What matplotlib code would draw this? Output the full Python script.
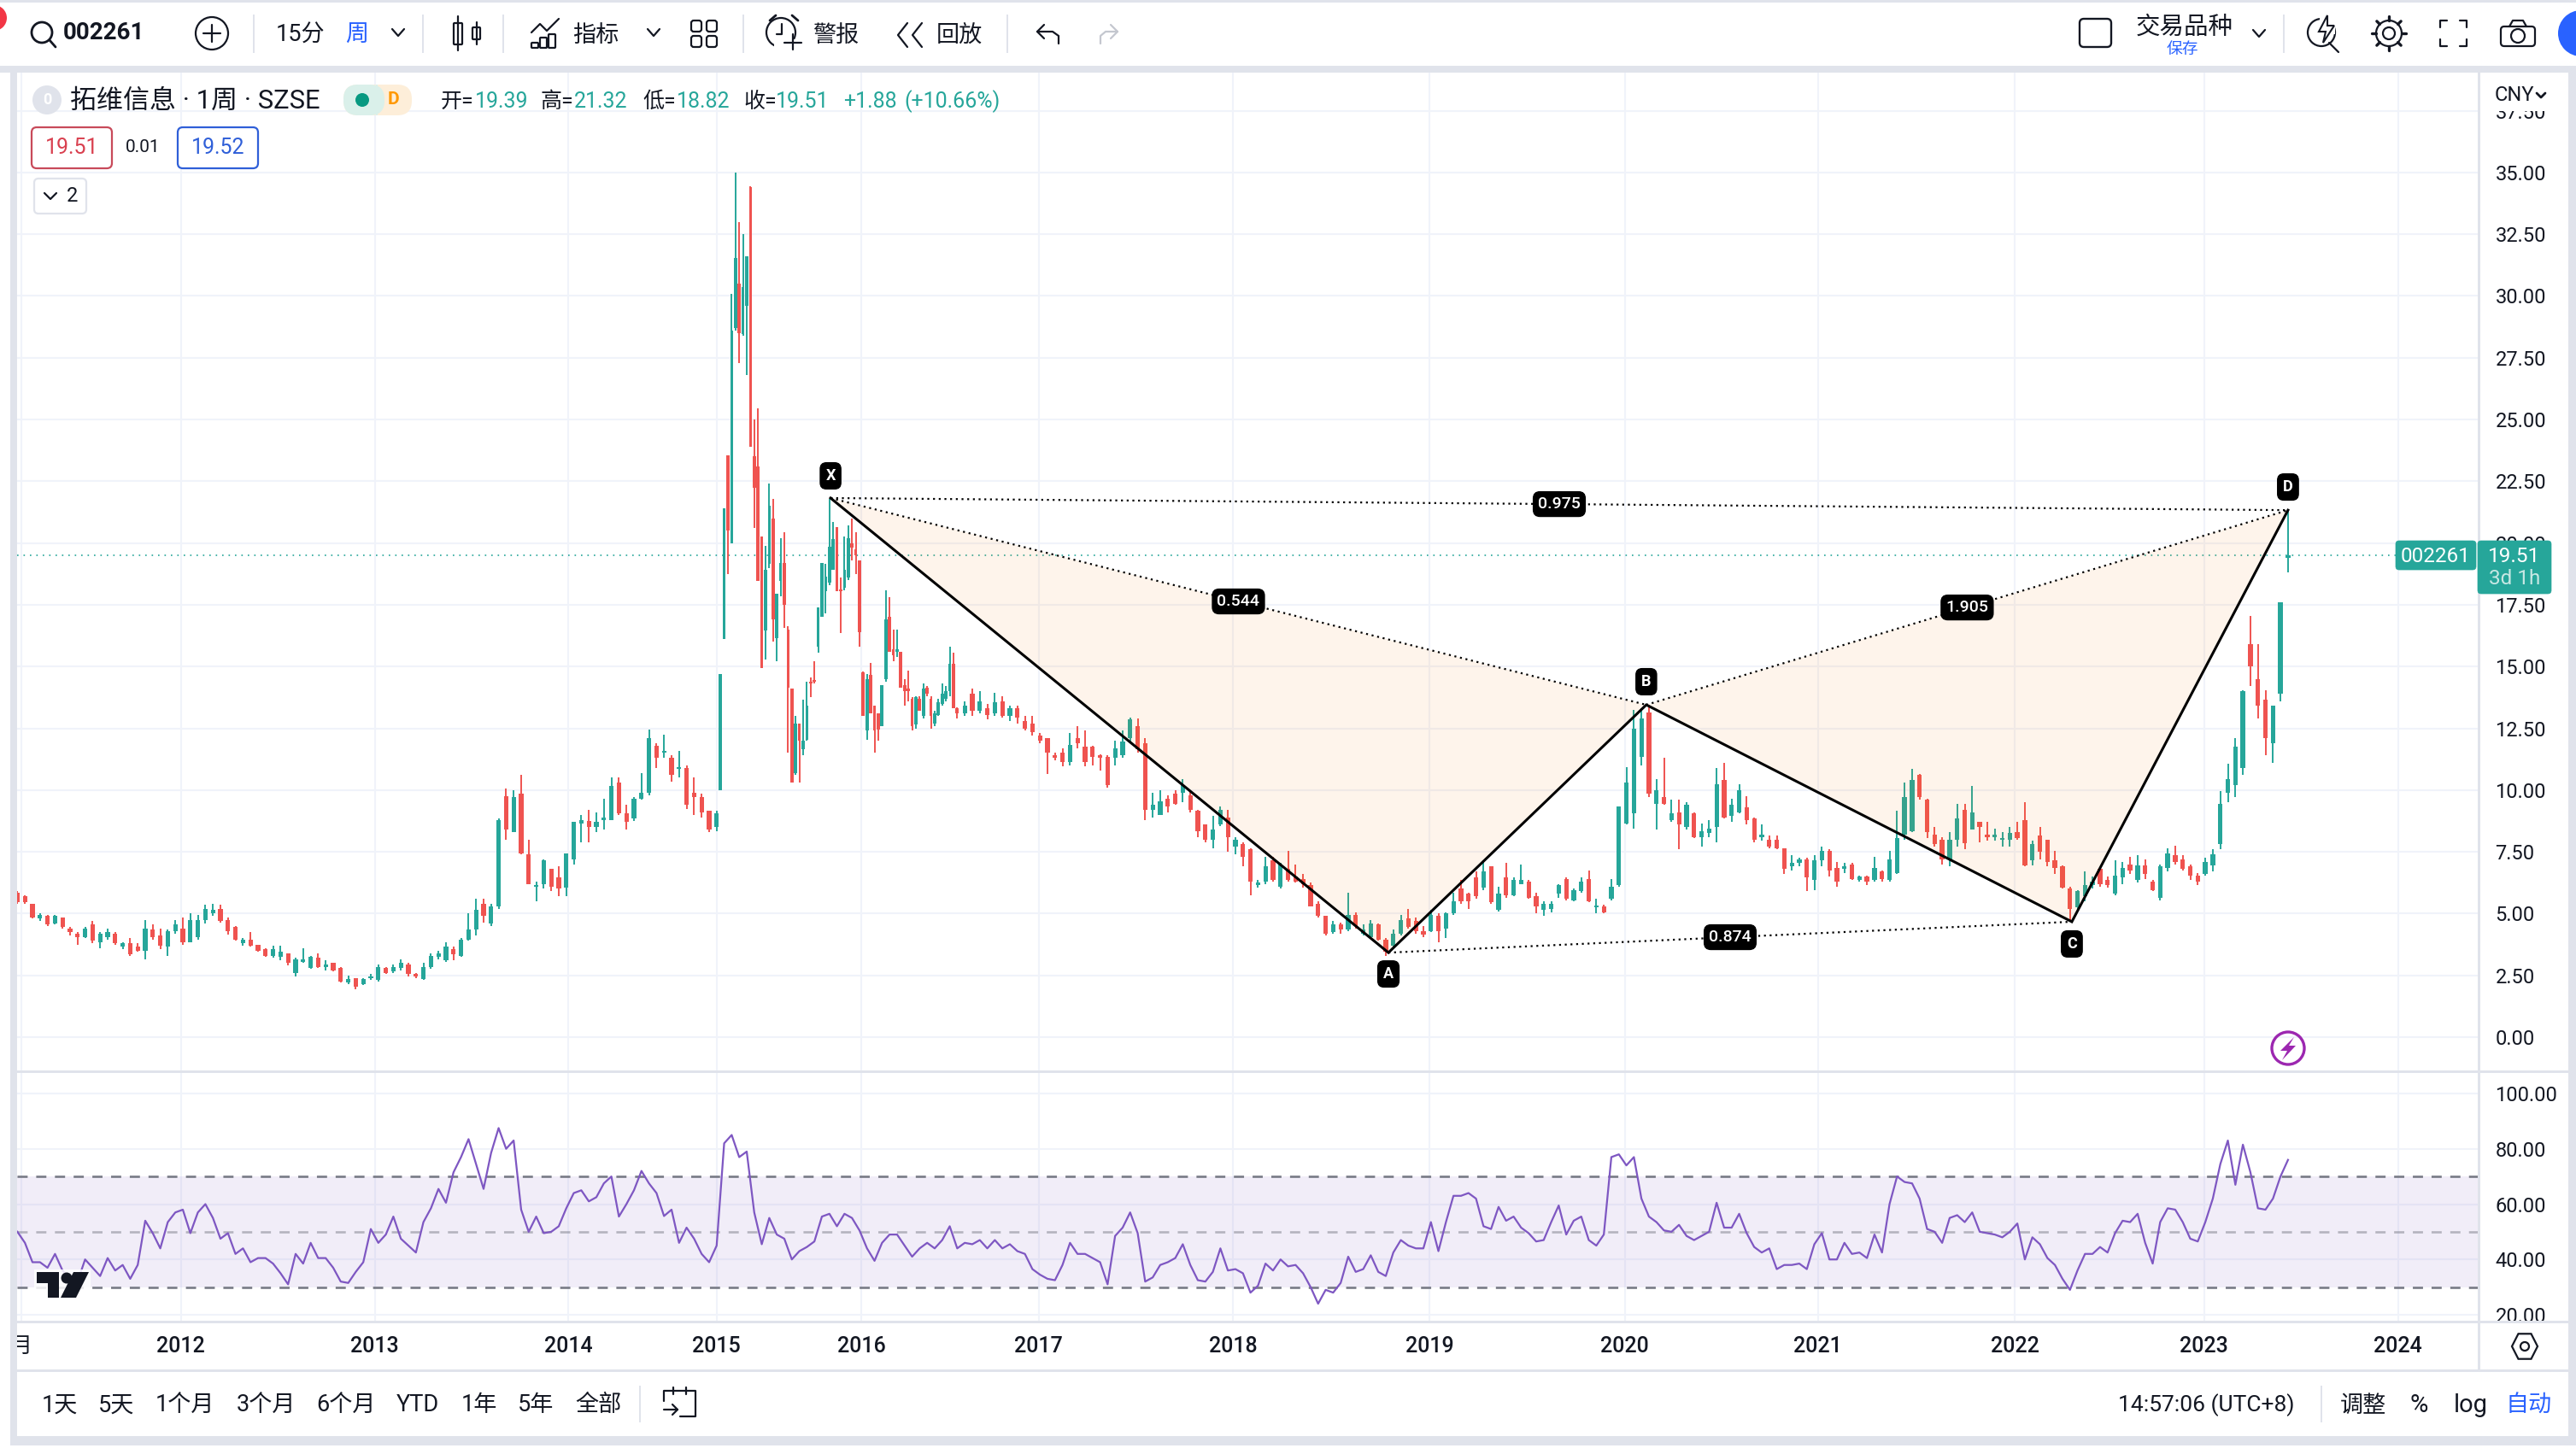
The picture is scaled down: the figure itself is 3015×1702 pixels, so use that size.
import numpy as np
import matplotlib
matplotlib.use("Agg")
import matplotlib.pyplot as plt
from matplotlib.patches import Circle, FancyBboxPatch, Polygon, Rectangle

plt.rcParams["font.family"] = ["Roboto", "Noto Sans CJK SC", "DejaVu Sans"]

# weeks since the first bar: two-week bars, weekly around the 2015 spike
weeks = np.r_[np.arange(0, 187, 2), np.arange(187, 251), np.arange(252, 605, 2)]
bar_width = np.r_[np.full(94, 1.2), np.full(64, 0.85), np.full(177, 1.2)]

opens = [
    5.85,5.7,5.4,4.8,4.9,4.6,4.85,4.4,4.2,4.05,
    4.55,3.85,4.05,4.2,3.65,3.8,3.65,3.5,4.35,4.1,
    3.65,4.3,4.4,3.85,4.05,4.75,5.0,5.2,4.75,4.45,
    3.8,3.95,3.75,3.55,3.3,3.25,3.4,2.6,3.05,2.8,
    3.2,2.85,3.0,2.8,2.2,2.4,2.15,2.4,2.3,2.8,
    2.65,2.8,2.95,2.55,2.35,2.85,3.25,3.1,3.55,3.3,
    3.95,4.35,5.4,4.6,5.3,9.75,8.3,9.85,7.4,6.1,
    6.2,6.8,6.45,6.05,7.2,8.65,8.75,8.5,8.8,8.8,
    10.3,9.05,8.85,9.65,9.9,11.8,11.5,11.3,10.85,10.9,
    9.9,9.7,9.15,8.5,
    # weekly
    10,16.1,23.55,20,28.7,30.5,28.45,29.6,34.4,23.5,
    23.1,20.25,16.45,19.15,21,16.15,18.45,19.2,16.5,14.1,
    10.7,12.7,11.65,12.05,14.35,14.45,15.8,17,18.05,18.4,
    18.9,20.65,18.1,18.2,18.6,20,19.75,19.3,14.75,12.4,
    14.65,13.4,13.1,12.6,14.5,17,15.7,15.6,15.6,14.25,
    14.1,13.7,12.65,13.7,13,14.15,13.7,12.7,13.05,13.5,
    13.7,14,15.1,13.3,
    # two-week again
    13.1,13.9,13.2,13.3,13.1,13.6,13,13.3,12.8,12.7,
    12.2,12.1,11.4,11.5,11.15,12.1,11.75,11.75,11.4,11.35,
    11.3,11.4,12.1,12.6,11.9,9.2,9,9.65,9.85,9.9,
    9.8,9.15,8.6,8,8.6,8.9,7.7,7.8,7.6,6.15,
    6.3,7.15,6.1,6.8,6.5,6.4,6.15,5.4,4.9,4.25,
    4.55,4.35,4.95,4.2,4.05,4.55,3.95,3.7,4.2,4.8,
    4.7,4.3,4.3,4.9,4.4,5,6,5.8,6.45,6.05,
    6.9,5.15,6.45,5.75,6.2,6.3,5.7,5.15,5.2,5.8,
    6.4,5.55,5.9,6.4,5.25,5.3,5.6,6.15,8.65,9.05,
    11.35,13.15,9.45,9.7,8.8,9.1,8.5,9.05,8.1,8.25,
    8.5,10.4,8.95,9.1,9.3,8.85,8.1,8,8,7.65,
    6.9,7.05,7.2,6.35,7.15,7.55,6.85,6.8,7,6.35,
    6.5,6.35,6.7,6.35,6.65,8.2,8.35,10.6,9.6,8.2,
    8,7.2,8,9.2,8.4,8.7,8.2,8.1,8,8,
    8.3,8.8,7.15,8.15,8,7.15,6.9,6,5.25,5.7,
    6.15,6.8,6.35,5.8,6.45,7,6.35,6.95,6.3,5.65,
    6.85,7.35,7.2,6.9,6.55,6.6,6.95,7.8,9.9,10.2,
    10.9,15.9,14.5,13.65,11.9,13.9,19.39,
]
highs = [
    5.9,5.75,5.4,5.0,4.95,4.95,4.85,4.45,4.25,4.45,
    4.7,4.25,4.4,4.25,3.85,4.0,3.8,4.75,4.55,4.4,
    4.35,4.75,4.85,5.0,4.95,5.35,5.4,5.35,4.85,4.5,
    4.0,4.25,3.75,3.6,3.7,3.7,3.4,3.2,3.6,3.3,
    3.4,3.1,3.0,2.85,2.5,2.4,2.4,2.55,2.95,2.85,
    2.95,3.15,3.0,2.6,3.0,3.4,3.5,3.85,3.65,4.0,
    5.0,5.6,5.6,5.4,8.85,10.05,10.0,10.6,8.0,6.3,
    7.2,6.8,6.9,7.45,8.7,9.0,9.2,9.1,9.65,10.5,
    10.5,9.4,9.7,10.7,12.45,11.9,12.25,11.4,11.6,11.0,
    10.5,9.85,9.15,9.15,
    # weekly
    14.68,21.4,23.55,30.07,35,33,32.5,31.6,34.45,25,
    25.45,20.25,19.9,22.4,21.8,17.95,20.2,20.45,16.65,14.1,
    13,12.7,13.65,14.4,14.55,15.2,17.4,19.2,19.15,21.8,
    20.85,20.65,18.6,20.25,20.7,21,20.45,19.3,14.8,14.7,
    15.15,13.4,13.1,14.25,18.1,17.8,16.5,16.5,15.6,14.5,
    14.85,13.75,13.8,13.8,14.3,14.2,13.8,13.2,13.7,14.3,
    14.2,15.8,15.55,13.35,
    # two-week again
    13.6,14.1,14,13.5,13.95,13.8,13.4,13.4,13,13,
    12.3,12.1,11.5,11.7,12.3,12.6,12.4,11.8,11.45,11.4,
    12,12.4,12.95,12.9,12.1,9.9,10,9.8,10,10.45,
    10,9.2,8.6,8.95,9.35,9.2,8.1,7.9,7.65,6.35,
    7.3,7.3,7.05,7.55,7,6.6,6.25,5.5,4.9,4.7,
    4.65,5.85,5.05,4.55,4.75,4.6,4,4.35,4.95,5.2,
    4.85,4.5,5.15,5,5.05,5.85,6.35,5.85,6.7,7.15,
    6.9,6.1,7.05,6.45,7,6.35,5.85,5.5,5.5,6.2,
    6.45,6,6.45,6.75,5.6,5.35,6.4,9.35,10.93,13.25,
    13.3,13.45,10.45,11.3,9.6,9.6,9.5,9.1,8.65,8.8,
    10.9,11.1,9.65,10.25,9.75,8.9,8.6,8.15,8.15,7.65,
    7.35,7.25,7.25,7.35,7.7,7.6,7.1,7.05,7.05,6.55,
    6.55,7.3,6.75,7.55,9.15,10.3,10.85,10.65,9.65,8.5,
    8.1,8.3,9.45,9.45,10.15,8.7,8.7,8.45,8.3,8.5,
    8.7,9.5,7.95,8.5,8,7.55,6.95,6.1,5.95,6.7,
    6.5,6.85,6.5,7.15,7.1,7.3,7.35,7.2,6.35,7,
    7.65,7.75,7.35,7,6.65,7.25,7.6,9.95,11.05,12.1,
    14.05,17.05,15.9,14.05,13.4,17.6,21.32,
]
lows = [
    5.4,5.4,4.8,4.7,4.5,4.55,4.4,4.1,3.75,4.0,
    3.8,3.6,3.95,3.75,3.55,3.3,3.45,3.15,3.95,3.55,
    3.3,4.2,3.75,3.85,3.95,4.6,4.9,4.65,4.15,3.9,
    3.7,3.65,3.45,3.25,3.2,3.1,2.9,2.45,3.0,2.75,
    2.8,2.7,2.65,2.2,2.15,1.95,2.1,2.3,2.25,2.55,
    2.6,2.7,2.45,2.4,2.3,2.75,3.15,3.05,3.1,3.25,
    3.9,4.1,4.65,4.5,5.2,8.0,8.3,7.4,6.2,5.5,
    6.0,5.9,5.7,5.7,7.0,7.9,7.9,8.3,8.4,8.8,
    9.0,8.4,8.75,9.6,9.8,10.9,11.3,10.35,10.5,9.25,
    9.0,8.9,8.3,8.35,
    # weekly
    10,16.1,18.75,20,28.6,27.3,28.4,26.8,23.9,20.6,
    18.45,14.95,15.3,19,16,15.2,17.85,16.55,11.5,10.3,
    10.6,10.3,11.4,12,13.75,14.3,15.55,17,17.15,18.3,
    18.9,18.05,16.35,18.1,18.5,19.3,18.75,15.8,13,12.05,
    13.1,11.5,12,12.6,14.4,15.6,15.2,15.4,14.15,13.4,
    13.6,12.4,12.5,13.2,12.9,13.8,12.5,12.6,13,13.4,
    13.6,13.8,13.3,12.9,
    # two-week again
    13,13,13.1,12.85,13,12.95,12.8,12.7,12.4,12.2,
    11.9,10.65,11.2,10.95,11,11.7,10.95,11,10.8,10.1,
    11,11.3,11.9,11.5,8.8,8.9,9,9.1,9.4,9.5,
    9.1,8.1,7.9,7.65,8.55,7.5,7.4,6.9,5.75,6.05,
    6.2,6.3,6,6.3,6.25,6.05,5.3,4.85,4.1,4.2,
    4.2,4.3,4.4,4.1,4,3.9,3.3,3.6,4.1,4.4,
    4.2,4.05,4.25,3.85,4,4.95,5.4,5.2,5.6,5.95,
    5.4,5.1,5.65,5.7,6.2,5.6,5,4.9,5.05,5.65,
    5.55,5.5,5.85,5.45,5,5,5.55,6.1,8.6,8.45,
    11,9.7,8.4,9.4,8.7,7.6,8.4,8.05,7.7,8.1,
    7.9,8.85,8.7,9.05,8.6,7.9,7.95,7.65,7.6,6.6,
    6.75,6.9,5.9,5.95,6.9,6.5,6.1,6.65,6.35,6.3,
    6.15,6.3,6.3,6.3,6.6,8,8.3,9.6,8.05,7.7,
    7,6.9,7.7,7.6,8.4,7.9,7.95,7.95,7.7,7.7,
    8,6.9,6.95,7.2,6.9,6.6,6,4.67,5.15,5.5,
    6,6.1,6.05,5.75,6.2,6.6,6.25,6.4,5.9,5.55,
    6.7,7,6.75,6.35,6.15,6.55,6.7,7.6,9.5,9.7,
    10.6,14.2,12.9,11.4,11.1,13.6,18.82,
]
closes = [
    5.45,5.45,4.85,4.95,4.55,4.9,4.45,4.25,4.05,4.4,
    3.9,4.2,4.25,3.8,3.8,3.35,3.5,4.4,4.05,3.7,
    4.3,4.55,3.85,4.75,4.75,5.2,5.15,4.7,4.3,3.95,
    3.95,3.7,3.5,3.3,3.55,3.45,3.0,3.15,3.15,3.25,
    2.85,2.95,2.7,2.25,2.35,2.05,2.35,2.42,2.85,2.6,
    2.85,3.0,2.55,2.45,2.85,3.3,3.4,3.65,3.35,3.95,
    4.35,5.15,4.9,5.3,8.8,8.4,9.7,7.45,6.2,6.15,
    7.15,6.1,6.0,7.45,8.7,8.8,8.5,8.7,8.8,10.15,
    9.05,8.7,9.65,9.9,12.1,11.3,11.5,10.6,10.9,9.4,
    9.7,9.1,8.4,9.05,
    # weekly
    14.68,21.4,20.5,28.6,31.55,28.5,30.35,31.6,23.9,22.25,
    18.45,14.95,18.9,21.5,16.9,17.95,19.2,17.5,14.15,10.3,
    12.7,12,12,13.4,14.3,14.4,17.4,19.2,18.65,19.85,
    20.15,18.05,18.05,18.9,20.2,19.8,19.5,16.4,13,14.5,
    13.1,12.4,12.45,14.25,16.9,15.6,15.45,15.7,14.15,14,
    14,12.6,13.75,13.2,14.1,13.9,13,13.1,13.55,13.9,
    14,15.1,13.3,13.1,
    # two-week again
    13.4,13.2,13.6,13.05,13.55,13,13.3,12.95,12.5,12.35,
    12,11.5,11.3,11.15,11.84,11.9,11.15,11.35,11.3,10.2,
    11.7,11.95,12.85,11.65,9.2,9.4,9.55,9.35,9.45,10.2,
    9.2,8.35,8,8.4,9.2,8.1,8,7.3,6.3,6.25,
    6.9,6.35,7,6.35,6.3,6.2,5.3,4.9,4.2,4.55,
    4.35,4.95,4.5,4.35,4.6,3.95,3.45,4.2,4.75,4.45,
    4.3,4.15,4.95,4.3,5,5.5,5.5,5.5,5.7,6.7,
    5.45,5.8,5.75,6.35,6.35,5.65,5.3,5.4,5.4,6.15,
    5.6,5.95,6.3,5.5,5.3,5.05,6.1,9.35,10.3,12.5,
    12.9,9.85,10,9.45,9.05,8.6,9.4,8.1,8.35,8.45,
    10.25,8.9,9.4,10,8.8,8,8.2,7.7,7.65,6.8,
    7.05,7.2,6.45,7.15,7.55,6.75,6.3,6.9,6.4,6.5,
    6.3,6.85,6.4,7.2,8.05,9.7,10.4,9.7,8.3,7.8,
    7.2,8,8.85,7.85,9.1,8.5,8.1,8.2,8.05,8.25,
    8.05,6.95,7.8,7.5,7.1,6.85,6.05,5.2,5.9,6.15,
    6.3,6.2,6.15,6.55,6.85,6.75,6.95,6.6,5.95,6.9,
    7.45,7.1,6.8,6.55,6.3,7.1,7.4,9.45,10.45,11.75,
    14,15,13.4,12.1,13.4,17.6,19.51,
]

rsi_weeks = np.arange(0, 605, 2)
rsi = [
    50,46,39,39,37,42,36,33,32,40,
    37,34,40.5,36,38,33,38,54,49.5,44,
    53.5,57,58,49.5,57,60,55,47.5,49.5,42,
    44,39,40.5,40.5,38.5,35,31,42,38.5,46,
    40.5,40.5,37,32,31.5,35.5,39,51,46,49,
    55.5,47.5,45,42.5,53.5,58.5,65.5,60.5,71.5,77,
    83.5,74.5,65.5,78.5,87.5,80,83,58,50,55.5,
    49.5,50,52,58.5,64,65,61,62.5,67.5,70,
    55.5,60,65,72,67.5,64,55.7,58,46,51.5,
    47.5,42,39,45,82,85,77,79,57,45.5,
    55,49,47.5,40,43,44.5,46.5,55.5,56.5,52,
    56.5,55,50.5,44,39.5,46,49,49,45,41,
    44,46,44,47,52,44,46,45.5,47,44,
    47,44,45.5,43,42,36.5,34.5,33,32.5,38,
    46,42,42,40.5,39,31,48.5,51.5,57,49.5,
    32,33.5,38,39,40.5,45.5,38,32.5,32,35.5,
    44,36,36.5,35,28,30.5,38.5,36,40,37.5,
    38,35,30,24,29,28,31.5,41,35.5,36.5,
    41.5,35.5,34,42.5,47,45,44,44,53.5,43,
    53.5,63,63,64,62,52,51,59,54,55.5,
    51.5,49.5,46.5,47,53.5,59.5,49,54,55.5,47,
    45,49,77,78,74,77,62,55.5,53.5,50.5,
    50,52.5,48.5,47,48.5,50,60.5,51.5,51.5,56.5,
    49.5,44.5,42.5,44,36.5,38,38,38.5,36.5,45.5,
    49.5,40,40,46,42,42.5,40.5,49,42.5,60,
    70,68,67.5,62,51,50,46,55,56,53.5,
    57,50,49.5,49,48,50,53,40,48,45.5,
    40.5,38,33,29,36,42,42,44.5,42.5,49.5,
    54,53.5,56.5,46,38.5,53.5,58.5,58,53.5,47.5,
    46.5,53.5,62,74.5,83,67,81.5,71.5,58.5,58,
    62,70,76,
]

price_ticks = [0, 2.5, 5, 7.5, 10, 12.5, 15, 17.5, 20, 22.5, 25, 27.5, 30, 32.5, 35, 37.5]
rsi_ticks = [20, 40, 60, 80, 100]
year_ticks = [1, 43.5, 95.1, 146.5, 186, 224.5, 271.7, 323.4, 375.6, 427.6, 478.9, 531.3, 581.7, 633.3]
year_labels = ["月", "2012", "2013", "2014", "2015", "2016", "2017", "2018", "2019", "2020", "2021", "2022", "2023", "2024"]

# XABCD pattern (week, price)
pattern_names = ["X", "A", "B", "C", "D"]
pattern_weeks = [216.3, 364.7, 433.3, 546.5, 604]
pattern_prices = [21.82, 3.42, 13.45, 4.67, 21.33]
label_offsets = [18.7, -18, 19.5, -18.7, 19.5]
ratio_pairs = [(0, 4), (0, 2), (2, 4), (1, 3)]
ratio_labels = ["0.975", "0.544", "1.905", "0.874"]

UP = "#26a69a"
DOWN = "#ef5350"
DARK = "#131722"
BLUE = "#2962ff"
LINE = "#e0e3eb"
GRID = "#f0f3fa"
PURPLE = "#7e57c2"
W, H = 3015, 1702

fig = plt.figure(figsize=(W / 100, H / 100), dpi=100, facecolor="white")


def panel(left, top, right, bottom):
    return fig.add_axes([left / W, 1 - bottom / H, (right - left) / W, (bottom - top) / H])


# price panel
ax = panel(20, 85, 2901, 1254)
ax.set_xlim(-0.09, 654.7)
ax.set_ylim(-1.383, 39.04)
colors = [UP if c >= o else DOWN for o, c in zip(opens, closes)]
ax.vlines(weeks, lows, highs, colors=colors, linewidth=1.4, zorder=3)
bottoms = np.minimum(opens, closes)
heights = np.maximum(np.abs(np.array(closes) - np.array(opens)), 0.07)
ax.bar(weeks, heights, width=bar_width, bottom=bottoms, color=colors, zorder=3)

ax.set_yticks(price_ticks)
ax.set_yticklabels([f"{v:.2f}" for v in price_ticks])
ax.yaxis.tick_right()
ax.set_xticks(year_ticks)
ax.tick_params(axis="x", length=0, labelbottom=False)
ax.tick_params(axis="y", length=0, pad=14, labelsize=17, labelcolor=DARK)
ax.grid(True, color=GRID, linewidth=1.5, zorder=0)
ax.set_axisbelow(True)
for s in ax.spines.values():
    s.set_visible(False)

# harmonic pattern
ax.fill(pattern_weeks[:3], pattern_prices[:3], color="#f57c00", alpha=0.08, lw=0, zorder=4)
ax.fill(pattern_weeks[2:], pattern_prices[2:], color="#f57c00", alpha=0.08, lw=0, zorder=4)
ax.plot(pattern_weeks, pattern_prices, color="black", lw=2.2, zorder=5, solid_joinstyle="miter")
for a, b in ratio_pairs:
    ax.plot([pattern_weeks[a], pattern_weeks[b]], [pattern_prices[a], pattern_prices[b]],
            color="black", lw=1.6, ls=(0, (1, 2)), zorder=5)
for (a, b), s in zip(ratio_pairs, ratio_labels):
    ax.text((pattern_weeks[a] + pattern_weeks[b]) / 2, (pattern_prices[a] + pattern_prices[b]) / 2, s,
            color="white", fontsize=14, fontweight="medium", ha="center", va="center", zorder=7,
            bbox=dict(boxstyle="round,pad=0.28,rounding_size=0.4", fc="black", ec="black"))
for name, x, y, off in zip(pattern_names, pattern_weeks, pattern_prices, label_offsets):
    ax.annotate(name, xy=(x, y), xytext=(0, off), textcoords="offset points", color="white",
                fontsize=13, fontweight="bold", ha="center", va="center", zorder=7,
                bbox=dict(boxstyle="round,pad=0.35,rounding_size=0.4", fc="black", ec="black"))

# last price line
ax.axhline(closes[-1], color=UP, lw=1.2, ls=(0, (1, 3.5)), zorder=2)

# RSI panel
ax2 = panel(20, 1254, 2901, 1547)
ax2.set_xlim(-0.09, 654.7)
ax2.set_ylim(17.53, 108.03)
ax2.axhspan(30, 70, color=PURPLE, alpha=0.1, lw=0, zorder=1)
for level, a in [(70, 1), (50, 0.5), (30, 1)]:
    ax2.axhline(level, color="#787b86", lw=1.9, alpha=a, ls=(0, (4.5, 3.8)), zorder=2)
ax2.plot(rsi_weeks, rsi, color=PURPLE, lw=1.6, zorder=3)
ax2.set_yticks(rsi_ticks)
ax2.set_yticklabels([f"{v:.2f}" for v in rsi_ticks])
ax2.yaxis.tick_right()
ax2.set_xticks(year_ticks)
ax2.set_xticklabels(year_labels, fontweight="medium")
ax2.tick_params(axis="x", length=0, pad=12, labelsize=18, labelcolor=DARK)
ax2.tick_params(axis="y", length=0, pad=14, labelsize=17, labelcolor=DARK)
ax2.grid(True, color=GRID, linewidth=1.5, zorder=0)
ax2.set_axisbelow(True)
for s in ax2.spines.values():
    s.set_visible(False)

# everything around the chart is drawn in pixel coordinates
ui = fig.add_axes([0, 0, 1, 1], facecolor="none", zorder=10)
ui.set_xlim(0, W)
ui.set_ylim(H, 0)
ui.axis("off")


def txt(x, y, s, size=19.5, color=DARK, ha="left", **kw):
    ui.text(x, y, s, fontsize=size, color=color, ha=ha, va="center", **kw)


def rect(x0, y0, x1, y1, color):
    ui.add_patch(Rectangle((x0, y0), x1 - x0, y1 - y0, fc=color, ec="none"))


def rbox(x0, y0, x1, y1, ec=DARK, fc="none", lw=1.6, r=5):
    ui.add_patch(FancyBboxPatch((x0, y0), x1 - x0, y1 - y0, boxstyle=f"round,pad=0,rounding_size={r}",
                                fc=fc, ec=ec, lw=lw))


def pl(xs, ys, color=DARK, lw=1.6):
    ui.plot(xs, ys, color=color, lw=lw, solid_capstyle="round", solid_joinstyle="round")


def ring(x, y, r, color=DARK, lw=1.6, fc="none"):
    ui.add_patch(Circle((x, y), r, fc=fc, ec=color, lw=lw))


def caret(x, y, color=DARK):
    pl([x - 7, x, x + 7], [y - 4, y + 4, y - 4], color)


# page frame
rect(0, 0, W, 3, LINE)
rect(0, 77, W, 85, LINE)
rect(12, 85, 20, 1690, LINE)
rect(3006, 85, W, 1690, LINE)
rect(12, 1681, W, 1692, LINE)
rect(20, 1253, 2901, 1256, LINE)
rect(20, 1546, 3006, 1549, LINE)
rect(20, 1603, 3006, 1606, LINE)
rect(20, 1253, 3006, 1256, LINE)
rect(2900, 85, 2903, 1605, LINE)

# top toolbar
ui.add_patch(Circle((-7, 21), 15, fc="#f23645", ec="none", clip_on=True))
ring(49, 38, 12, lw=2)
pl([58, 65], [47, 55], lw=2)
txt(74, 39, "002261", size=20, fontweight="bold")
ring(248, 39, 19)
pl([238, 258], [39, 39])
pl([248, 248], [29, 49])
for sx in [297, 495, 589, 870, 1179, 2673]:
    rect(sx - 1, 17, sx + 1, 62, LINE)
txt(323, 41, "15分")
txt(404, 41, "周", color=BLUE)
caret(466, 38)
pl([536, 536], [19, 59])
rbox(531, 27, 541, 52, fc="white", r=1)
pl([558, 558], [26, 52])
rbox(553, 32, 562, 46, fc="white", r=1)
pl([622, 632, 640, 654], [38, 28, 36, 22])
for bx, by in [(622, 50), (632, 44), (642, 40)]:
    rbox(bx, by, bx + 8, 56, r=1)
txt(670, 41, "指标")
caret(765, 38)
for lx, ly in [(809, 24), (827, 24), (809, 42), (827, 42)]:
    rbox(lx, ly, lx + 12, ly + 13, r=3)
# alarm with a plus
ring(914, 38, 17)
rect(906, 46, 936, 58, "white")
pl([901, 908], [24, 18], lw=2)
pl([927, 934], [18, 24], lw=2)
pl([915, 915, 909], [28, 40, 40])
pl([928, 928], [40, 58])
pl([918, 938], [50, 50])
txt(951, 41, "警报")
pl([1062, 1051, 1062], [27, 41, 55])
pl([1079, 1068, 1079], [27, 41, 55])
txt(1096, 41, "回放")
pl([1222, 1214, 1222], [29, 37, 45])
pl([1214, 1232, 1239, 1239], [37, 37, 42, 51])
pl([1300, 1308, 1300], [29, 37, 45], color="#c4c7cf")
pl([1308, 1294, 1288, 1288], [37, 37, 42, 51], color="#c4c7cf")

rbox(2434, 22, 2471, 55, lw=1.7, r=5)
txt(2500, 32, "交易品种", size=20.5)
txt(2536, 58, "保存", size=13.5, color=BLUE)
caret(2644, 39)
ring(2717, 38, 16)
rect(2715, 18, 2733, 40, "white")
ui.add_patch(Polygon([[2724, 18], [2714, 37], [2722, 37], [2719, 50], [2732, 30], [2724, 30]],
                     fc="white", ec=DARK, lw=1.5))
pl([2726, 2737], [50, 61])
ring(2796, 39, 7)
ring(2796, 39, 15)
for ang in np.deg2rad(np.arange(0, 360, 45)):
    pl([2796 + 15 * np.cos(ang), 2796 + 20 * np.cos(ang)], [39 + 15 * np.sin(ang), 39 + 20 * np.sin(ang)], lw=2.4)
for fx, fy, dx, dy in [(2856, 24, 1, 1), (2887, 24, -1, 1), (2856, 54, 1, -1), (2887, 54, -1, -1)]:
    pl([fx + 8 * dx, fx, fx], [fy, fy, fy + 8 * dy])
rbox(2927, 31, 2967, 54, r=4)
pl([2937, 2941, 2953, 2957], [31, 24, 24, 31])
ring(2947, 42, 8)
ui.add_patch(Circle((3021, 39), 27, fc=BLUE, ec="none"))

# legend row
ui.add_patch(Circle((55, 117), 17, fc=LINE, ec="none"))
txt(55, 117, "0", size=13, color="white", ha="center", fontweight="bold")
txt(82, 118, "拓维信息 · 1周 · SZSE", size=22.3)
ui.add_patch(FancyBboxPatch((402, 99), 80, 36, boxstyle="round,pad=0,rounding_size=17", fc="#fdeed9", ec="none"))
ui.add_patch(FancyBboxPatch((402, 99), 48, 36, boxstyle="round,pad=0,rounding_size=17", fc="#daf0ea", ec="none"))
rect(440, 99, 442, 135, "#daf0ea")
ui.add_patch(Circle((424, 117), 8, fc="#089981", ec="none"))
txt(460, 117, "D", size=15, color="#ff9800", ha="center", fontweight="bold")
for x, s, c in [(516, "开=", DARK), (556, "19.39", UP), (632, "高=", DARK), (672, "21.32", UP),
                (752, "低=", DARK), (792, "18.82", UP), (870, "收=", DARK), (908, "19.51", UP),
                (987, "+1.88", UP), (1058, "(+10.66%)", UP)]:
    txt(x, 119, s, size=18, color=c)

rbox(37, 149, 131, 197, ec="#c84a5a", fc="white", lw=1.6, r=6)
txt(84, 173, "19.51", size=18, color="#d9404f", ha="center")
txt(147, 173, "0.01", size=15)
rbox(208, 149, 302, 197, ec="#2f5fd8", fc="white", lw=1.6, r=6)
txt(255, 173, "19.52", size=18, color="#2f5fd8", ha="center")
rbox(40, 209, 101, 250, ec=LINE, fc="white", lw=1.6, r=5)
pl([52, 59, 66], [226, 233, 226])
txt(78, 230, "2", size=17)

# right scale extras
rect(2903, 85, 3006, 130, "white")
txt(2920, 112, "CNY", size=17)
pl([2969, 2974, 2979], [109, 114, 109], lw=2)
rbox(2804, 633, 2898, 667, ec=UP, fc=UP, lw=0.5, r=4)
txt(2851, 651, "002261", size=17.5, color="white", ha="center")
rbox(2900, 633, 2986, 695, ec=UP, fc=UP, lw=0.5, r=4)
txt(2943, 652, "19.51", size=17.5, color="white", ha="center")
txt(2943, 678, "3d 1h", size=17.5, color="#c8e8e4", ha="center")

# lightning badge
ring(2678, 1227, 19, color="#9c27b0", lw=2.4)
ui.add_patch(Polygon([[2685, 1214], [2669, 1230], [2677, 1230], [2671, 1241], [2687, 1224], [2679, 1224]],
                     fc="#9c27b0", ec="none"))

# TradingView mark on the RSI pane
rect(40, 1486, 106, 1521, (1, 1, 1, 0.85))
ui.add_patch(Polygon([[43, 1489], [69, 1489], [69, 1519], [56, 1519], [56, 1502], [43, 1502]], fc=DARK, ec="none"))
ui.add_patch(Circle((78, 1496), 6.5, fc=DARK, ec="none"))
ui.add_patch(Polygon([[86, 1489], [104, 1489], [89, 1519], [71, 1519]], fc=DARK, ec="none"))

# bottom bar
for x, s in [(70, "1天"), (136, "5天"), (216, "1个月"), (311, "3个月"), (405, "6个月"),
             (489, "YTD"), (561, "1年"), (627, "5年"), (700, "全部")]:
    txt(x, 1645, s, ha="center")
rect(748, 1622, 750, 1665, LINE)
pl([777, 777, 814, 814, 796], [1640, 1628, 1628, 1658, 1658])
pl([788, 788], [1624, 1632])
pl([803, 803], [1624, 1632])
pl([777, 793, 787], [1650, 1650, 1644])
pl([793, 787], [1650, 1656])

txt(2479, 1645, "14:57:06 (UTC+8)", size=19)
rect(2716, 1622, 2718, 1665, LINE)
txt(2739, 1645, "调整")
txt(2820, 1645, "%", size=21)
txt(2872, 1645, "log", size=21)
txt(2933, 1645, "自动", color=BLUE)
hex_a = np.deg2rad(np.arange(0, 360, 60))
ui.add_patch(Polygon(np.c_[2955 + 15 * np.cos(hex_a), 1576 + 17 * np.sin(hex_a)], fc="none", ec=DARK, lw=1.6))
ring(2955, 1576, 5)

fig.savefig("out.png", dpi=100)
